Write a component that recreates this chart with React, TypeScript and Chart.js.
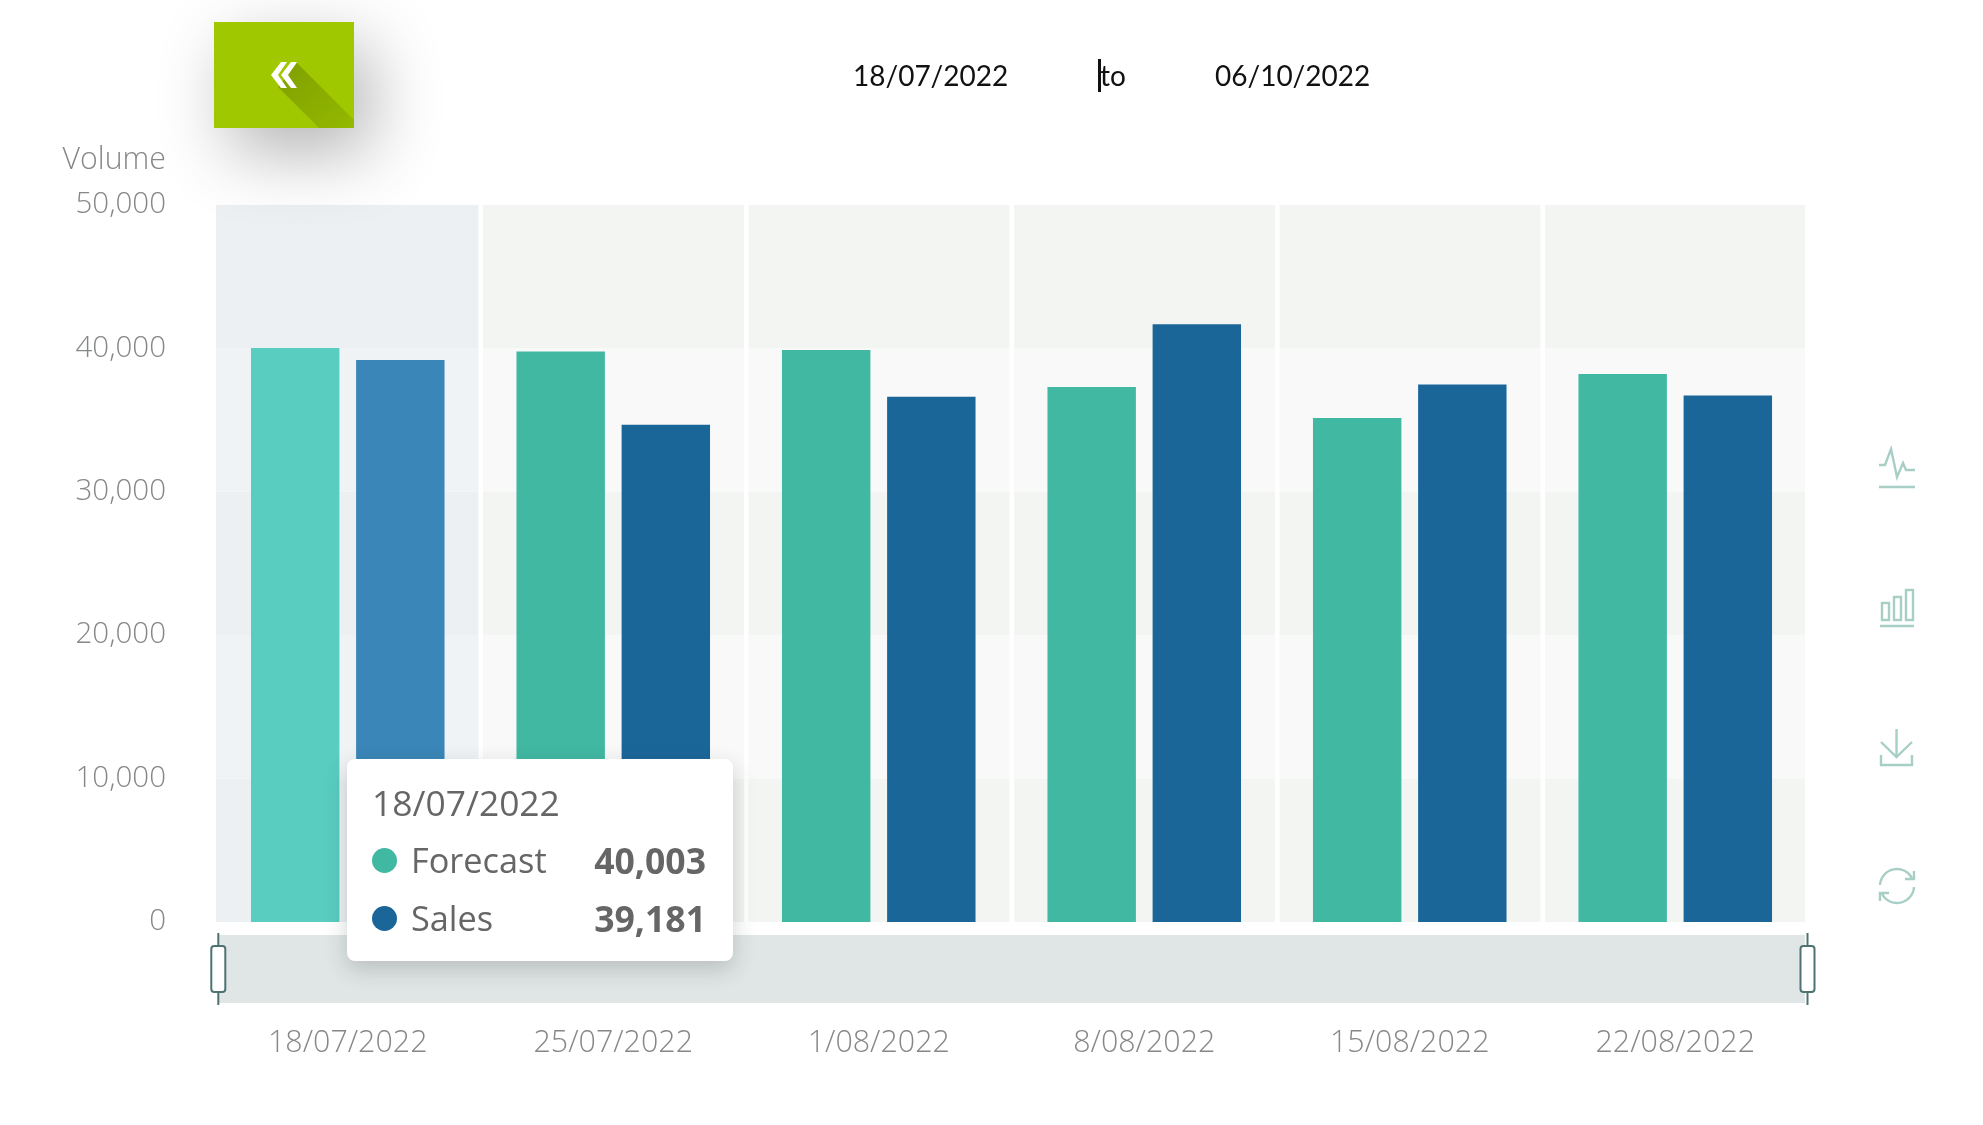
import React, { useEffect, useRef } from "react";
import { Chart, registerables } from "chart.js";

Chart.register(...registerables);

const categories = ["18/07/2022", "25/07/2022", "1/08/2022", "8/08/2022", "15/08/2022", "22/08/2022"];
const forecast = [40003, 39775, 39880, 37290, 35130, 38200];
const sales = [39181, 34660, 36610, 41660, 37470, 36700];
const forecastColors = ["#59CDC0", "#41B8A2", "#41B8A2", "#41B8A2", "#41B8A2", "#41B8A2"];
const salesColors = ["#3A86B8", "#1B6699", "#1B6699", "#1B6699", "#1B6699", "#1B6699"];
const yTicks = [0, 10000, 20000, 30000, 40000, 50000];
const rangeStart = "18/07/2022";
const rangeEnd = "06/10/2022";

const AXIS_FONT = "'Open Sans', 'Noto Sans', sans-serif";
const TEXT_GREY = "#868888";

const backdrop = {
  id: "backdrop",
  beforeDraw(chart: any) {
    const { ctx, chartArea: a, scales } = chart;
    const x = scales.x;
    const y = scales.y;
    const visLeft = a.left + 1;
    const visRight = a.right - 3;
    ctx.save();
    const colW = a.width / categories.length;
    ctx.beginPath();
    ctx.rect(visLeft, a.top, visRight - visLeft, a.height);
    ctx.save();
    ctx.clip();
    categories.forEach((_, i) => {
      const left = x.getPixelForValue(i) - colW / 2;
      for (let t = 0; t < yTicks.length - 1; t++) {
        const top = y.getPixelForValue(yTicks[t + 1]);
        const bot = y.getPixelForValue(yTicks[t]);
        const even = (yTicks.length - 2 - t) % 2 === 0;
        if (i === 0) ctx.fillStyle = even ? "#ECF0F3" : "#EFF3F6";
        else ctx.fillStyle = even ? "#F3F5F2" : "#F8F9F8";
        ctx.fillRect(left, top, colW, bot - top);
      }
    });
    ctx.fillStyle = "#FFFFFF";
    for (let i = 1; i < categories.length; i++) {
      ctx.fillRect(a.left + i * colW - 2, a.top, 4.5, a.height);
    }
    ctx.restore();
    // range slider
    ctx.fillStyle = "#E0E6E6";
    ctx.fillRect(a.left + 3, 935, visRight - a.left - 3, 68);
    ctx.restore();
  },
  afterDraw(chart: any) {
    const { ctx, chartArea: a } = chart;
    ctx.save();
    [a.left + 3.3, a.right - 0.5].forEach((cx: number) => {
      ctx.strokeStyle = "#4E7272";
      ctx.lineWidth = 2;
      ctx.beginPath();
      ctx.moveTo(cx, 933);
      ctx.lineTo(cx, 1005);
      ctx.stroke();
      ctx.fillStyle = "#FFFFFF";
      ctx.beginPath();
      ctx.roundRect(cx - 7, 946, 14, 46, 3);
      ctx.fill();
      ctx.stroke();
    });
    ctx.restore();
  },
};

function Icon({ top, left, w, h, children }: any) {
  return (
    <svg
      width={w}
      height={h}
      viewBox={`0 0 ${w} ${h}`}
      style={{ position: "absolute", left, top, overflow: "visible" }}
      fill="none"
      stroke="#A8CFC5"
      strokeWidth={2.4}
    >
      {children}
    </svg>
  );
}

export default function App() {
  const ref = useRef<HTMLCanvasElement | null>(null);

  useEffect(() => {
    document.body.style.margin = "0";
    document.body.style.background = "#FFFFFF";
    const chart = new Chart(ref.current as HTMLCanvasElement, {
      type: "bar",
      data: {
        labels: categories,
        datasets: [
          { label: "Forecast", data: forecast, backgroundColor: forecastColors, hoverBackgroundColor: forecastColors },
          { label: "Sales", data: sales, backgroundColor: salesColors, hoverBackgroundColor: salesColors },
        ],
      },
      plugins: [backdrop],
      options: {
        animation: false,
        responsive: false,
        devicePixelRatio: 1,
        events: [],
        layout: { padding: { top: 204.7, right: 175, left: 0, bottom: 0 } },
        datasets: { bar: { categoryPercentage: 0.792, barPercentage: 0.841 } },
        plugins: { legend: { display: false }, tooltip: { enabled: false }, title: { display: false } },
        scales: {
          x: {
            grid: { display: false, drawTicks: false },
            border: { display: false },
            ticks: {
              padding: 103,
              color: TEXT_GREY,
              font: { family: AXIS_FONT, size: 30.4, weight: "300" },
              maxRotation: 0,
              autoSkip: false,
            },
            afterFit(s: any) {
              s.height = 203;
            },
          },
          y: {
            min: 0,
            max: 50000,
            grid: { display: false, drawTicks: false },
            border: { display: false },
            ticks: {
              stepSize: 10000,
              padding: 49,
              color: TEXT_GREY,
              font: { family: AXIS_FONT, size: 29.5, weight: "300" },
              callback: (v: any) => Number(v).toLocaleString("en-US"),
            },
            afterFit(s: any) {
              s.width = 215;
            },
          },
        },
      } as any,
    });
    return () => chart.destroy();
  }, []);

  const dateStyle: React.CSSProperties = {
    position: "absolute",
    top: 57,
    fontFamily: "Lato, sans-serif",
    fontSize: 28,
    lineHeight: "36px",
    color: "#111",
    whiteSpace: "nowrap",
  };

  const ttFont = "'Open Sans', 'Noto Sans', sans-serif";
  const row = (top: number, name: string, val: number, color: string) => (
    <>
      <div style={{ position: "absolute", left: 372, top: top - 12, width: 25, height: 25, borderRadius: "50%", background: color }} />
      <div style={{ position: "absolute", left: 411, top: top - 25, lineHeight: "50px", fontSize: 34.3, color: "#666", fontFamily: ttFont }}>{name}</div>
      <div style={{ position: "absolute", right: 1983 - 706, top: top - 25, lineHeight: "50px", fontSize: 35.6, fontWeight: 700, color: "#666", fontFamily: ttFont }}>
        {val.toLocaleString("en-US")}
      </div>
    </>
  );

  return (
    <div style={{ position: "relative", width: 1983, height: 1125, overflow: "hidden", background: "#fff" }}>
      <canvas ref={ref} width={1983} height={1125} style={{ position: "absolute", left: 0, top: 0, width: 1983, height: 1125 }} />

      {/* back button */}
      <div style={{ position: "absolute", left: 214, top: 22, width: 140, height: 106, background: "#9FC800", boxShadow: "16px 24px 70px rgba(0,0,0,0.3)", overflow: "hidden" }}>
        <svg width={140} height={106} style={{ position: "absolute", left: 0, top: 0 }}>
          <defs>
            <linearGradient id="ls" x1="0" y1="0" x2="1" y2="1">
              <stop offset="0" stopColor="#7F9F00" />
              <stop offset="1" stopColor="#93B900" />
            </linearGradient>
          </defs>
          <polygon points="83,41 140,98 140,106 105,106 64,65" fill="url(#ls)" />
          <path d="M67,40 L57,53 L67,66 L73,66 L64,53 L73,40 Z M77,40 L67,53 L77,66 L83,66 L74,53 L83,40 Z" fill="#fff" />
        </svg>
      </div>

      {/* date range */}
      <div style={{ ...dateStyle, left: 853 }}>{rangeStart}</div>
      <div style={{ position: "absolute", left: 1098, top: 59, width: 3, height: 33, background: "#111" }} />
      <div style={{ ...dateStyle, left: 1100 }}>to</div>
      <div style={{ ...dateStyle, left: 1215 }}>{rangeEnd}</div>

      {/* axis name */}
      <div style={{ position: "absolute", right: 1983 - 166, top: 138, lineHeight: "40px", fontFamily: AXIS_FONT, fontWeight: 300, fontSize: 30.3, color: TEXT_GREY }}>Volume</div>

      {/* tooltip */}
      <div style={{ position: "absolute", left: 347, top: 759, width: 386, height: 202, background: "#fff", borderRadius: 8, boxShadow: "0 8px 22px rgba(40,50,50,0.22)" }} />
      <div style={{ position: "absolute", left: 372, top: 777, lineHeight: "50px", fontSize: 35.4, color: "#666", fontFamily: ttFont }}>{categories[0]}</div>
      {row(860, "Forecast", forecast[0], "#41B8A2")}
      {row(918, "Sales", sales[0], "#1B6699")}

      {/* tool icons */}
      <Icon left={1879} top={448} w={36} h={41}>
        <polyline points="0,17 6,17 12,1 18,29 24,15 27,22 36,22" />
        <line x1={0} y1={39} x2={36} y2={39} />
      </Icon>
      <Icon left={1880} top={589} w={34} h={39}>
        <rect x={2} y={14} width={7} height={17} />
        <rect x={14} y={8} width={7} height={23} />
        <rect x={26} y={1} width={7} height={30} />
        <line x1={0} y1={37} x2={34} y2={37} />
      </Icon>
      <Icon left={1880} top={729} w={33} h={37}>
        <line x1={16.5} y1={0} x2={16.5} y2={28} />
        <polyline points="1,13 16.5,28 32,13" />
        <polyline points="1,26 1,36 32,36 32,26" />
      </Icon>
      <Icon left={1878} top={867} w={38} h={38}>
        <path d="M2,18 A17,17 0 0 1 34,11" />
        <path d="M36,20 A17,17 0 0 1 4,27" />
        <polyline points="27,12 36,12 36,4" />
        <polyline points="11,26 2,26 2,34" />
      </Icon>
    </div>
  );
}
